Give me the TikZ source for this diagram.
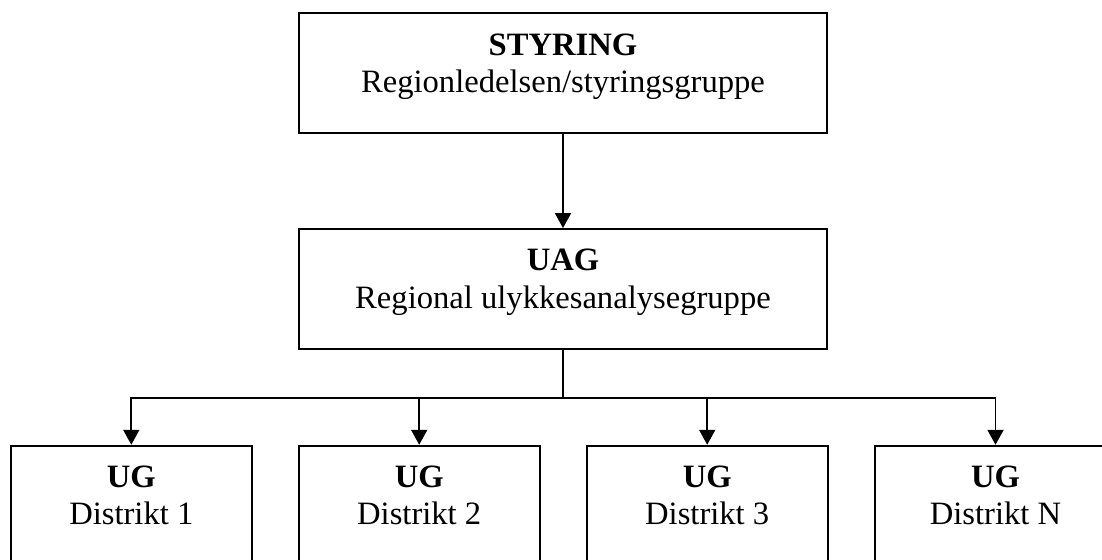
\documentclass[tikz,border=0pt]{standalone}
\usepackage{fontspec}
\setmainfont{Liberation Serif}
\usetikzlibrary{arrows.meta,positioning}
\begin{document}
\begin{tikzpicture}
  [
    x=0.5pt, y=0.5pt,
    Box/.style={rectangle, draw=black, line width=0.9pt, align=center, inner sep=0pt, minimum height=60pt, text height=31pt, text depth=11.8pt, font=\fontsize{16.3}{18.7}\selectfont},
    Wide/.style={Box, minimum width=264.3pt},
    Small/.style={Box, minimum width=120.4pt},
    Link/.style={line width=0.9pt, -{Triangle[length=7.5pt, width=8pt]}}
  ]
  \useasboundingbox (0,0) rectangle (1102,560);
  % Nodes
  \node[Wide] (styring) at (563, 486.7) {\textbf{STYRING}\\Regionledelsen/styringsgruppe};
  \node[Wide] (uag) at (563, 271) {\textbf{UAG}\\Regional ulykkesanalysegruppe};
  \node[Small] (ug1) at (131.3, 54.3) {\textbf{UG}\\Distrikt 1};
  \node[Small] (ug2) at (419.2, 54.3) {\textbf{UG}\\Distrikt 2};
  \node[Small] (ug3) at (707.2, 54.3) {\textbf{UG}\\Distrikt 3};
  \node[Small] (ugN) at (995.5, 54.3) {\textbf{UG}\\Distrikt N};
  \coordinate (bus) at (563, 162.3);
  % Lines
  \path [Link, draw] (styring) -- (uag);
  \path [draw, line width=0.9pt] (uag) -- (bus);
  \path [draw, line width=0.9pt, line cap=rect] (ug1.north |- bus) -- (ugN.north |- bus);
  \foreach \n in {1,2,3,N} \path [Link, draw] (ug\n.north |- bus) -- (ug\n.north);
\end{tikzpicture}
\end{document}
